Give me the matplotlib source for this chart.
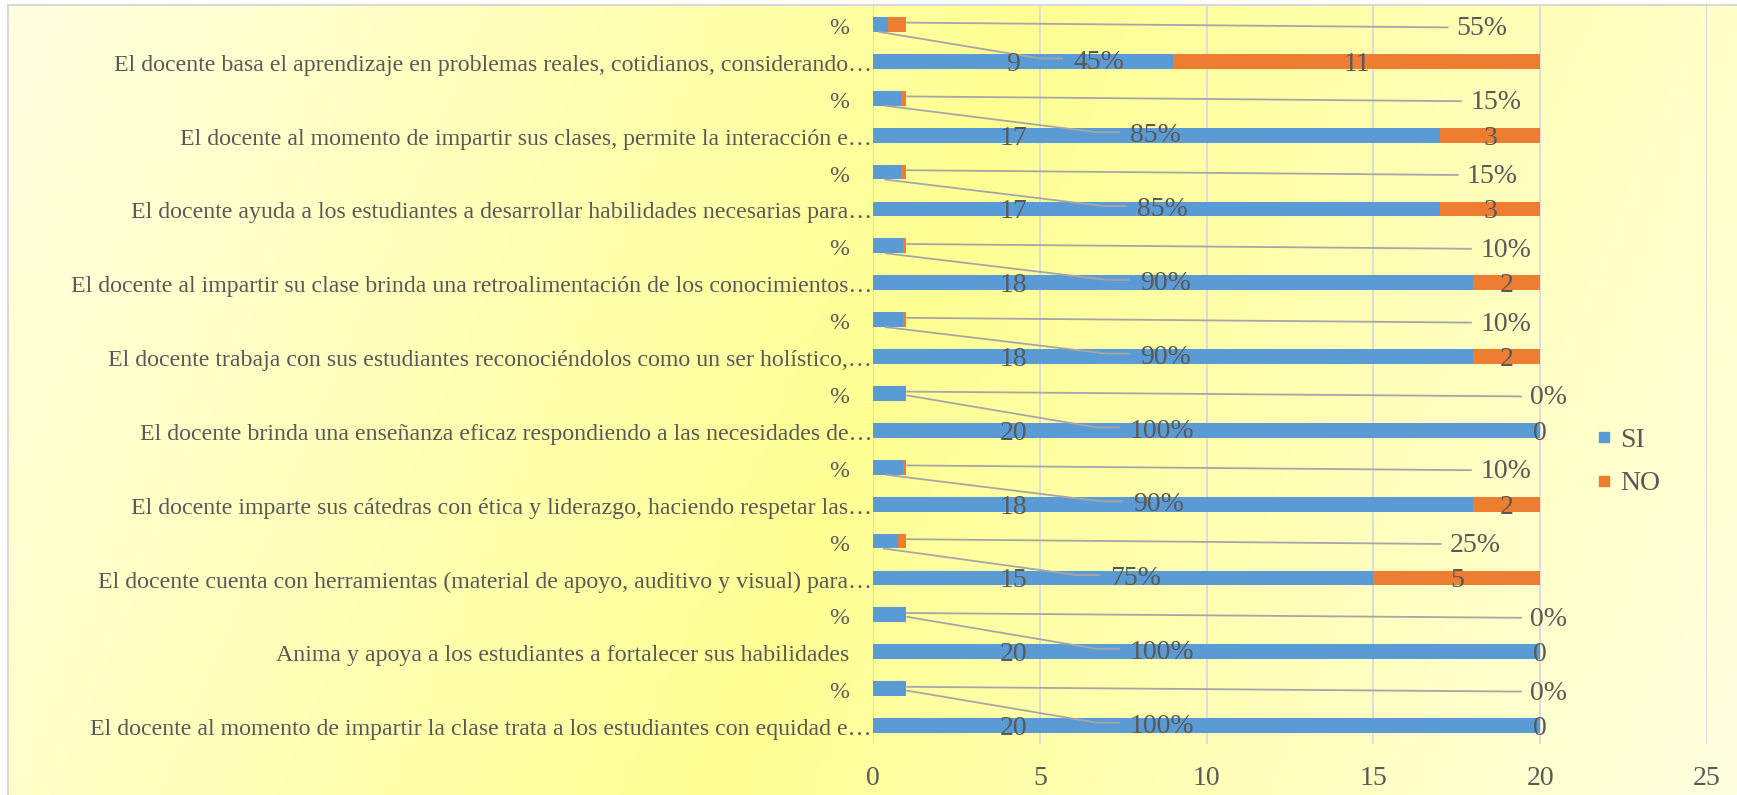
import numpy as np
import matplotlib
matplotlib.use("Agg")
import matplotlib.pyplot as plt
from matplotlib import transforms
from matplotlib.lines import Line2D

# questions, listed top to bottom as they appear
questions = [
    "El docente basa el aprendizaje en problemas reales, cotidianos, considerando…",
    "El docente al momento de impartir sus clases, permite la interacción e…",
    "El docente ayuda a los estudiantes a desarrollar habilidades necesarias para…",
    "El docente al impartir su clase brinda una retroalimentación de los conocimientos…",
    "El docente trabaja con sus estudiantes reconociéndolos como un ser holístico,…",
    "El docente brinda una enseñanza eficaz respondiendo a las necesidades de…",
    "El docente imparte sus cátedras con ética y liderazgo, haciendo respetar las…",
    "El docente cuenta con herramientas (material de apoyo, auditivo y visual) para…",
    "Anima y apoya a los estudiantes a fortalecer sus habilidades",
    "El docente al momento de impartir la clase trata a los estudiantes con equidad e…",
]
pct_label = "%"
si_count = [9, 17, 17, 18, 18, 20, 18, 15, 20, 20]
no_count = [11, 3, 3, 2, 2, 0, 2, 5, 0, 0]
si_share = [0.45, 0.85, 0.85, 0.90, 0.90, 1.00, 0.90, 0.75, 1.00, 1.00]
no_share = [0.55, 0.15, 0.15, 0.10, 0.10, 0.00, 0.10, 0.25, 0.00, 0.00]
series = ["SI", "NO"]
x_ticks = [0, 5, 10, 15, 20, 25]

# label placement (data units)
count_label_x = 4.2
si_share_label_x = [6.0, 7.7, 7.9, 8.0, 8.0, 7.7, 7.8, 7.1, 7.7, 7.7]
no_share_label_x = [17.5, 17.9, 17.8, 18.2, 18.2, 19.7, 18.2, 17.3, 19.7, 19.7]

BLUE = "#5B9BD5"
ORANGE = "#ED7D31"
TEXT = "#595959"
GRID = "#D9D9DE"
LEADER = "#A6A6A6"
FS = 20
CAT_FS = 17.2

plt.rcParams["font.family"] = ["Liberation Serif", "DejaVu Serif"]

W, H = 1737, 795
fig = plt.figure(figsize=(W / 100, H / 100), dpi=100)
fig.patch.set_facecolor("white")

# yellow diagonal gradient behind the chart
left_px, top_px = 8, 5
bg = fig.add_axes([left_px / W, 0, 1 - left_px / W, 1 - top_px / H], zorder=-5)
gx, gy = np.meshgrid(np.arange(W - left_px), np.arange(H - top_px))
u = (795 * gx + 332 * gy) / (795 * W + 332 * H)
t = np.clip(1 - np.abs(u - 0.5) / 0.5, 0, 1)
pale = np.array([255, 255, 226]) / 255
bright = np.array([255, 255, 148]) / 255
img = pale[None, None, :] + (bright - pale)[None, None, :] * t[..., None]
bg.imshow(img, aspect="auto", interpolation="bilinear")
bg.axis("off")
fig.add_artist(Line2D([left_px / W, left_px / W], [0, 1 - top_px / H],
                      transform=fig.transFigure, color="#D9D9D9", lw=1.5))
fig.add_artist(Line2D([left_px / W, 1], [1 - top_px / H, 1 - top_px / H],
                      transform=fig.transFigure, color="#D9D9D9", lw=1.5))

ax = fig.add_axes([873 / W, (H - 744) / H, (1707 - 873) / W, (744 - 6) / H])
ax.patch.set_alpha(0)

n = len(questions)
y_q = np.array([2 * (n - 1 - k) for k in range(n)])
y_p = y_q + 1

ys = np.concatenate([y_q, y_p])
si_vals = np.concatenate([si_count, si_share])
no_vals = np.concatenate([no_count, no_share])

bh = 0.4
ax.barh(ys, si_vals, height=bh, color=BLUE, zorder=2)
ax.barh(ys, no_vals, left=si_vals, height=bh, color=ORANGE, zorder=2)

for k in range(n):
    yq, yp = y_q[k], y_p[k]
    # counts on the question bars
    ax.text(count_label_x, yq - 0.08, str(si_count[k]), ha="center", va="center",
            fontsize=FS, color=TEXT, zorder=4)
    ax.text(si_count[k] + no_count[k] / 2, yq - 0.08, str(no_count[k]),
            ha="center", va="center", fontsize=FS, color=TEXT, zorder=4)

    # SI share label, pulled down next to the question bar
    lx = si_share_label_x[k]
    if no_share[k] == 0:
        sx, sy = si_share[k], yp - 0.05
    else:
        sx, sy = si_share[k] * 0.4, yp - bh / 2
    ax.plot([sx, lx - 1.0, lx - 0.3], [sy, yq + 0.08, yq + 0.08],
            color=LEADER, lw=1.3, zorder=3, solid_capstyle="butt")
    ax.text(lx, yq - 0.02, f"{round(si_share[k] * 100)}%", ha="left", va="center",
            fontsize=FS, color=TEXT, zorder=4)

    # NO share label out to the right
    rx = no_share_label_x[k]
    ax.plot([1.0, rx - 0.25], [yp + 0.05, yp - 0.08],
            color=LEADER, lw=1.3, zorder=3, solid_capstyle="butt")
    ax.text(rx, yp - 0.12, f"{round(no_share[k] * 100)}%", ha="left", va="center",
            fontsize=FS, color=TEXT, zorder=4)

# category labels
for k in range(n):
    for yy, lab in ((y_q[k], questions[k]), (y_p[k], pct_label)):
        pad = 1 if lab.endswith("…") else 24
        tr = transforms.offset_copy(ax.get_yaxis_transform(), fig=fig,
                                    x=-pad * 0.72, y=-4 * 0.72, units="points")
        ax.text(0, yy, lab, transform=tr, ha="right", va="center",
                fontsize=CAT_FS, color=TEXT)

ax.set_xlim(0, 25)
ax.set_ylim(-0.5, 2 * n - 0.5)
ax.set_xticks(x_ticks)
ax.set_yticks([])
ax.tick_params(axis="x", length=0, pad=16, labelsize=FS, labelcolor=TEXT)
for s in ax.spines.values():
    s.set_visible(False)
ax.grid(axis="x", color=GRID, lw=1.3, zorder=0)
ax.set_axisbelow(True)

handles = [Line2D([], [], marker="s", linestyle="", markersize=7.9, color=c, label=s)
           for c, s in zip([BLUE, ORANGE], series)]
fig.legend(handles=handles, loc="center left", bbox_to_anchor=(1597 / W, 1 - 462 / H),
           frameon=False, fontsize=FS, labelcolor=TEXT, handlelength=0.5,
           handletextpad=0.35, labelspacing=0.65, borderpad=0, borderaxespad=0)

fig.savefig("out.png", dpi=100)
